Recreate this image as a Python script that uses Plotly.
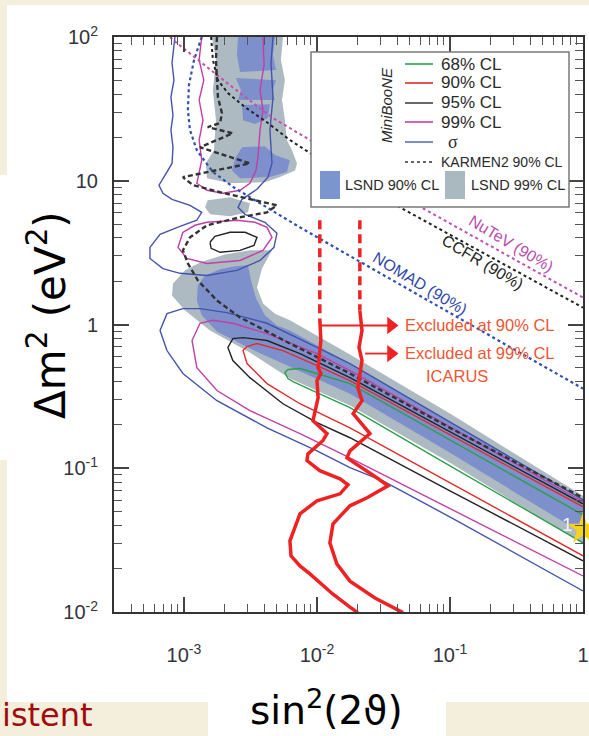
import plotly.graph_objects as go

# ---------------- data: x = sin^2(2theta), y = delta m^2 (eV^2) ----------------
# LSND 99% CL (grey)
lsnd99_hi_x = [1.62e-3, 5.55e-3, 5.36e-3, 5.74e-3, 5.46e-3, 5.74e-3, 5.94e-3, 6.49e-3, 7.08e-3, 6.84e-3,
               5.27e-3, 4.06e-3, 2.22e-3, 1.49e-3, 1.46e-3, 1.68e-3, 1.74e-3, 1.65e-3, 1.74e-3]
lsnd99_hi_y = [100, 100, 69.2, 50.1, 36.4, 26.4, 19.2, 16.3, 13.2, 11.8,
               10.6, 9.77, 9.61, 10.4, 13.2, 16.3, 26.4, 42.7, 69.2]
lsnd99_blob_x = [1.51e-3, 2.22e-3, 3.13e-3, 3.03e-3, 2.22e-3, 1.57e-3, 1.44e-3]
lsnd99_blob_y = [7.31, 7.67, 6.97, 6.03, 5.66, 5.84, 6.53]
lsnd99_lo_x = [8.27e-4, 1.02e-3, 1.32e-3, 2.03e-3, 3.13e-3, 4.59e-3, 3.86e-3, 3.54e-3, 3.93e-3, 4.83e-3,
               6.26e-3, 1.77e-2, 0.1, 1.0, 1.0, 0.1, 1.77e-2, 6.26e-3, 3.13e-3, 1.57e-3, 1.02e-3, 8.13e-4]
lsnd99_lo_y = [1.93, 2.38, 2.70, 3.07, 3.28, 3.28, 2.45, 1.81, 1.40, 1.19,
               1.07, 0.618, 0.240, 0.0643, 0.0298, 0.109, 0.273, 0.421, 0.638, 0.908, 1.25, 1.59]

# LSND 90% CL (blue)
lsnd90_a_x = [2.55e-3, 4.83e-3, 4.67e-3, 4.92e-3, 2.64e-3, 2.50e-3]
lsnd90_a_y = [100, 100, 75.0, 58.9, 57.0, 75.0]
lsnd90_b_x = [2.46e-3, 4.92e-3, 4.59e-3, 4.83e-3, 2.55e-3, 2.68e-3]
lsnd90_b_y = [51.8, 50.1, 41.4, 36.4, 36.4, 42.7]
lsnd90_c_x = [2.73e-3, 4.43e-3, 4.28e-3, 3.42e-3, 2.78e-3]
lsnd90_c_y = [33.6, 34.1, 27.3, 24.8, 26.4]
lsnd90_d_x = [2.73e-3, 4.06e-3, 4.83e-3, 6.26e-3, 5.94e-3, 4.43e-3, 2.64e-3, 2.30e-3, 2.42e-3]
lsnd90_d_y = [17.1, 17.4, 15.1, 13.9, 11.5, 10.6, 10.4, 11.8, 14.3]
lsnd90_lo_x = [1.27e-3, 1.44e-3, 1.87e-3, 2.42e-3, 3.03e-3, 3.19e-3, 3.48e-3, 4.06e-3, 5.00e-3, 6.26e-3,
               1.77e-2, 0.1, 1.0, 1.0, 0.1, 1.77e-2, 6.26e-3, 3.13e-3, 1.77e-3, 1.36e-3, 1.25e-3]
lsnd90_lo_y = [1.87, 2.19, 2.42, 2.54, 2.58, 2.03, 1.52, 1.16, 0.984, 0.908,
               0.535, 0.211, 0.0585, 0.0350, 0.128, 0.330, 0.509, 0.680, 0.894, 1.16, 1.47]

# MiniBooNE contours
mb68_x = [1.0, 0.1, 1.77e-2, 1e-2, 7.45e-3, 6.05e-3, 5.74e-3, 6.05e-3, 6.60e-3, 1e-2, 1.77e-2, 0.1, 1.0]
mb68_y = [0.0474, 0.158, 0.388, 0.456, 0.494, 0.486, 0.463, 0.421, 0.401, 0.336, 0.264, 0.104, 0.0303]
mb90_x = [1.0, 0.1, 1.77e-2, 1e-2, 5.55e-3, 3.54e-3, 2.98e-3, 2.78e-3, 2.98e-3, 4.21e-3, 7.45e-3, 1.77e-2, 0.1, 1.0]
mb90_y = [0.0539, 0.171, 0.407, 0.518, 0.659, 0.738, 0.703, 0.659, 0.535, 0.388, 0.281, 0.191, 0.0792, 0.0246]
mb95_x = [1.0, 0.1, 1.77e-2, 7.45e-3, 4.21e-3, 2.78e-3, 2.33e-3, 2.14e-3, 2.33e-3, 3.13e-3, 5.55e-3, 1e-2,
          1.77e-2, 0.1, 1.0]
mb95_y = [0.0566, 0.180, 0.427, 0.628, 0.774, 0.811, 0.798, 0.692, 0.561, 0.427, 0.281, 0.208,
          0.163, 0.0697, 0.0227]
mb99_x = [1.0, 0.1, 1.77e-2, 1e-2, 4.21e-3, 2.33e-3, 1.65e-3, 1.32e-3, 1.15e-3, 1.25e-3, 1.77e-3, 3.13e-3,
          7.45e-3, 1.77e-2, 0.1, 1.0]
mb99_y = [0.0585, 0.195, 0.478, 0.628, 0.865, 1.02, 1.07, 1.02, 0.774, 0.501, 0.347, 0.252,
          0.174, 0.118, 0.0522, 0.0178]
mbsig_x = [1.0, 0.1, 1.77e-2, 1e-2, 4.21e-3, 2.10e-3, 1.32e-3, 9.82e-4, 7.45e-4, 6.61e-4, 7.45e-4, 9.82e-4,
           1.77e-3, 4.21e-3, 1e-2, 1.77e-2, 3.13e-2, 0.113, 1.0]
mbsig_y = [0.0603, 0.211, 0.535, 0.692, 1.02, 1.21, 1.29, 1.29, 1.19, 0.908, 0.659, 0.456,
           0.295, 0.191, 0.132, 0.101, 0.0818, 0.0431, 0.0140]
mbsig_hi_x = [8.55e-4, 8.13e-4, 8.41e-4, 7.98e-4, 8.27e-4, 7.98e-4, 8.27e-4, 8.13e-4, 7.19e-4, 6.49e-4,
              6.95e-4, 8.13e-4, 1.11e-3, 1.36e-3, 1.25e-3, 9.33e-4, 6.61e-4, 5.55e-4, 5.55e-4, 6.95e-4,
              9.33e-4, 1.49e-3, 2.50e-3, 3.73e-3, 4.75e-3, 5.00e-3, 4.06e-3, 2.88e-3, 2.55e-3, 2.73e-3,
              3.54e-3, 4.28e-3, 4.59e-3, 4.43e-3, 4.67e-3, 4.51e-3, 4.67e-3]
mbsig_hi_y = [100, 65.9, 50.1, 38.2, 28.6, 22.5, 17.1, 13.2, 10.9, 9.31,
              8.18, 7.43, 6.75, 6.03, 5.31, 4.82, 4.24, 3.44, 2.88, 2.45,
              2.27, 2.19, 2.38, 2.79, 3.44, 4.31, 5.14, 5.84, 6.53, 7.43,
              8.73, 10.6, 13.2, 22.5, 38.2, 65.9, 100]
mb99_hi_x = [1.36e-3, 1.30e-3, 1.41e-3, 1.30e-3, 1.39e-3, 1.30e-3, 1.36e-3, 1.27e-3, 1.25e-3, 1.49e-3,
             1.96e-3, 2.64e-3, 3.13e-3, 3.48e-3, 3.60e-3, 3.73e-3, 3.93e-3, 3.73e-3, 4.00e-3, 3.93e-3]
mb99_hi_y = [100, 69.2, 50.1, 36.4, 26.4, 19.2, 13.9, 10.6, 9.61, 8.59,
             8.18, 8.59, 9.61, 11.8, 14.6, 22.5, 31.0, 42.7, 63.8, 100]
mb99_isl_x = [9.82e-4, 1.21e-3, 1.49e-3, 2.50e-3, 3.42e-3, 4.21e-3, 4.59e-3, 3.93e-3, 2.64e-3, 1.49e-3,
              1.05e-3, 9.02e-4, 9.82e-4]
mb99_isl_y = [4.38, 4.90, 5.14, 5.31, 5.14, 4.74, 4.04, 3.28, 2.79, 2.66, 2.88, 3.44, 4.38]
mb95_isl_x = [1.57e-3, 1.71e-3, 2.22e-3, 2.88e-3, 3.54e-3, 3.36e-3, 2.64e-3, 1.87e-3, 1.60e-3, 1.57e-3]
mb95_isl_y = [3.73, 4.10, 4.38, 4.38, 4.04, 3.55, 3.28, 3.18, 3.39, 3.73]

# other experiments (90% CL)
karmen_x = [1.77e-3, 1.74e-3, 1.80e-3, 1.93e-3, 1.87e-3, 1.51e-3, 2.33e-3, 1.32e-3, 3.13e-3, 9.82e-4,
            1.17e-3, 1.87e-3, 5.00e-3, 4.21e-3, 2.64e-3, 1.49e-3, 1.11e-3, 9.82e-4, 1.07e-3, 1.27e-3,
            1.77e-3, 2.64e-3, 6.26e-3, 1.77e-2, 0.1, 1.0]
karmen_y = [100, 69.2, 38.2, 29.5, 25.2, 23.6, 21.4, 17.1, 13.2, 10.6,
            9.31, 8.32, 6.75, 6.03, 5.57, 4.90, 4.04, 3.28, 2.66, 2.03,
            1.47, 1.12, 0.738, 0.456, 0.191, 0.0623]
ccfr_x = [1.60e-3, 1.65e-3, 1.80e-3, 2.14e-3, 2.88e-3, 4.28e-3, 6.26e-3, 8.85e-3, 4.21e-2, 1.0]
ccfr_y = [100, 69.2, 50.1, 40.7, 32.5, 25.2, 19.2, 15.6, 6.53, 1.31]
nutev_x = [7.85e-4, 8.85e-4, 1.49e-3, 2.64e-3, 4.67e-3, 8.85e-3, 6.26e-2, 1.0]
nutev_y = [100, 90.8, 61.8, 40.7, 27.3, 19.2, 6.43, 1.54]
nomad_x = [1.36e-3, 1.19e-3, 1.09e-3, 1.07e-3, 1.11e-3, 1.25e-3, 1.65e-3, 2.42e-3, 3.73e-3, 7.45e-3,
           1.49e-2, 0.1, 1.0]
nomad_y = [100, 69.2, 46.3, 31.0, 22.5, 16.3, 11.5, 8.87, 6.97, 4.74,
           3.28, 1.21, 0.358]

# ICARUS exclusion limits
icarus90_dash_x = [1.05e-2, 1.05e-2]
icarus90_dash_y = [5.31, 1.10]
icarus90_x = [1.05e-2, 1.07e-2, 1.02e-2, 1.07e-2, 1e-2, 1.02e-2, 9.33e-3, 1.19e-2, 1.11e-2, 8.55e-3,
              8.41e-3, 1.05e-2, 1.49e-2, 1.71e-2, 1.49e-2, 1e-2, 7.45e-3, 6.26e-3, 6.38e-3, 7.45e-3,
              8.85e-3, 1.32e-2, 1.77e-2, 2.03e-2]
icarus90_y = [1.10, 0.774, 0.501, 0.456, 0.407, 0.310, 0.214, 0.174, 0.156, 0.126,
              0.113, 0.0961, 0.0845, 0.0767, 0.0664, 0.0594, 0.0482, 0.0313, 0.0246, 0.0209,
              0.0184, 0.0133, 0.0108, 0.0099]
icarus99_dash_x = [2.10e-2, 2.10e-2]
icarus99_dash_y = [5.31, 1.25]
icarus99_x = [2.10e-2, 2.18e-2, 2.07e-2, 2.18e-2, 2.03e-2, 2.18e-2, 1.87e-2, 2.50e-2, 1.77e-2, 1.68e-2,
              2.82e-2, 3.42e-2, 2.38e-2, 1.77e-2, 1.32e-2, 1.25e-2, 1.41e-2, 1.77e-2, 2.73e-2, 4.43e-2]
icarus99_y = [1.25, 0.908, 0.692, 0.561, 0.364, 0.295, 0.240, 0.174, 0.132, 0.118,
              0.0859, 0.0755, 0.0623, 0.0548, 0.0410, 0.0303, 0.0216, 0.0164, 0.0125, 0.0099]
arrow90_x = [1.05e-2, 3.6e-2]
arrow90_y = [0.984, 0.984]
arrow99_x = [2.30e-2, 3.6e-2]
arrow99_y = [0.628, 0.628]

best_fit_x = [1.0]
best_fit_y = [0.0379]

x_tick_vals = [1e-3, 1e-2, 1e-1, 1]
x_tick_text = ["10<sup>-3</sup>", "10<sup>-2</sup>", "10<sup>-1</sup>", "1"]
y_tick_vals = [1e-2, 1e-1, 1, 10, 100]
y_tick_text = ["10<sup>-2</sup>", "10<sup>-1</sup>", "1", "10", "10<sup>2</sup>"]

# ---------------- styles ----------------
GREY = "#adbac2"
BLUE_FILL = "#7e90cc"
C68, C90, C95, C99, CSIG = "#2aa04a", "#e32b2b", "#222222", "#c23fa5", "#4453ad"
RED = "#ee2222"
TXT_RED = "#ef5533"

fig = go.Figure()


def poly(x, y, color):
    fig.add_trace(go.Scatter(x=x, y=y, mode="lines", fill="toself", fillcolor=color,
                             line=dict(width=0, color=color), hoverinfo="skip", showlegend=False))


def curve(x, y, color, width=1.4, dash="solid"):
    fig.add_trace(go.Scatter(x=x, y=y, mode="lines", line=dict(color=color, width=width, dash=dash),
                             hoverinfo="skip", showlegend=False))


poly(lsnd99_hi_x, lsnd99_hi_y, GREY)
poly(lsnd99_blob_x, lsnd99_blob_y, GREY)
poly(lsnd99_lo_x, lsnd99_lo_y, GREY)
for px_, py_ in [(lsnd90_a_x, lsnd90_a_y), (lsnd90_b_x, lsnd90_b_y), (lsnd90_c_x, lsnd90_c_y),
                 (lsnd90_d_x, lsnd90_d_y), (lsnd90_lo_x, lsnd90_lo_y)]:
    poly(px_, py_, BLUE_FILL)

curve(mbsig_x, mbsig_y, CSIG)
curve(mbsig_hi_x, mbsig_hi_y, CSIG)
curve(mb99_x, mb99_y, C99)
curve(mb99_hi_x, mb99_hi_y, C99)
curve(mb99_isl_x, mb99_isl_y, C99)
curve(mb95_x, mb95_y, C95)
curve(mb95_isl_x, mb95_isl_y, C95)
curve(mb90_x, mb90_y, C90)
curve(mb68_x, mb68_y, C68)

curve(nomad_x, nomad_y, "#2f4fb0", 2.2, "dot")
curve(nutev_x, nutev_y, "#c050b0", 2.0, "dot")
curve(ccfr_x, ccfr_y, "#222222", 2.0, "dot")
curve(karmen_x, karmen_y, "#333333", 2.4, "5px,3px")

curve(icarus90_dash_x, icarus90_dash_y, RED, 3.5, "9px,5px")
curve(icarus99_dash_x, icarus99_dash_y, RED, 3.5, "9px,5px")
curve(icarus90_x, icarus90_y, RED, 3.5)
curve(icarus99_x, icarus99_y, RED, 3.5)
curve(arrow90_x, arrow90_y, RED, 1.8)
curve(arrow99_x, arrow99_y, RED, 1.8)
fig.add_trace(go.Scatter(x=[arrow90_x[-1], arrow99_x[-1]], y=[arrow90_y[-1], arrow99_y[-1]], mode="markers",
                         marker=dict(symbol="triangle-right", size=15, color=RED, line=dict(width=0)),
                         hoverinfo="skip", showlegend=False))

fig.add_trace(go.Scatter(x=best_fit_x, y=best_fit_y, mode="markers", cliponaxis=False,
                         marker=dict(symbol="star", size=24, color="#f7d21a", line=dict(width=0)),
                         hoverinfo="skip", showlegend=False))

# ---------------- layout ----------------
W, H = 589, 736
L, R, T, B = 114, 6, 37, 124
PW, PH = W - L - R, H - T - B


def pxx(px):
    return (px - L) / PW


def pxy(py):
    return (H - B - py) / PH


shapes = []
BEIGE = "#f4eedc"
# white slide panels
shapes.append(dict(type="rect", xref="paper", yref="paper", x0=pxx(7), x1=pxx(592), y0=pxy(702), y1=pxy(5),
                   fillcolor="white", line=dict(width=0), layer="below"))
shapes.append(dict(type="rect", xref="paper", yref="paper", x0=pxx(-3), x1=pxx(8), y0=pxy(460), y1=pxy(175),
                   fillcolor="white", line=dict(width=0), layer="below"))
shapes.append(dict(type="rect", xref="paper", yref="paper", x0=pxx(208), x1=pxx(446), y0=pxy(740), y1=pxy(701),
                   fillcolor="white", line=dict(width=0), layer="below"))

# legend box
shapes.append(dict(type="rect", xref="paper", yref="paper", x0=pxx(311), x1=pxx(569), y0=pxy(207), y1=pxy(52),
                   fillcolor="white", line=dict(color="#7a7a7a", width=1.5), layer="above"))
leg_rows = [(64, C68, "solid"), (83, C90, "solid"), (103, "#444444", "solid"), (122, C99, "solid"),
            (142, "#5a6fc0", "solid"), (162, "#333333", "dot")]
for yy, col, dsh in leg_rows:
    shapes.append(dict(type="line", xref="paper", yref="paper", x0=pxx(405), x1=pxx(433), y0=pxy(yy), y1=pxy(yy),
                       line=dict(color=col, width=1.6 if dsh == "solid" else 1.4, dash=dsh), layer="above"))
shapes.append(dict(type="rect", xref="paper", yref="paper", x0=pxx(320), x1=pxx(340), y0=pxy(199), y1=pxy(171),
                   fillcolor="#7b96cf", line=dict(width=0), layer="above"))
shapes.append(dict(type="rect", xref="paper", yref="paper", x0=pxx(445), x1=pxx(465), y0=pxy(199), y1=pxy(171),
                   fillcolor="#aab8c0", line=dict(width=0), layer="above"))

ann = []
FONT = "Liberation Sans, Arial, sans-serif"


def text(px, py, s, size, color="#2a2a2a", xanchor="left", angle=0, family=FONT, yanchor="middle"):
    ann.append(dict(x=pxx(px), y=pxy(py), xref="paper", yref="paper", text=s, showarrow=False,
                    xanchor=xanchor, yanchor=yanchor, textangle=angle,
                    font=dict(size=size, color=color, family=family)))


for yy, s in [(64, "68% CL"), (83, "90% CL"), (103, "95% CL"), (122, "99% CL")]:
    text(439, yy, s, 17)
text(453, 142, "σ", 18, xanchor="center", family="Liberation Serif, serif")
text(439, 162, "KARMEN2 90% CL", 14)
text(343, 185, "LSND 90% CL", 14.5)
text(469, 185, "LSND 99% CL", 14.5)
text(386, 105, "<i>MiniBooNE</i>", 15, xanchor="center", angle=-90)

text(420, 283, "NOMAD (90%)", 16, color="#3048a8", xanchor="center", angle=31)
text(483, 262, "CCFR (90%)", 16, color="#222222", xanchor="center", angle=31)
text(511, 243, "NuTeV (90%)", 16, color="#b84cac", xanchor="center", angle=31)

text(403, 325, "Excluded at 90% CL", 16.5, color=TXT_RED)
text(403, 353, "Excluded at 99% CL", 16.5, color=TXT_RED)
text(457, 376, "ICARUS", 16.5, color=TXT_RED, xanchor="center")
text(567, 524, "1", 19, color="#f2f2f2", xanchor="center")

AXFONT = "DejaVu Sans, Noto Sans, sans-serif"
text(47, 315, "Δm<sup>2</sup> (eV<sup>2</sup>)", 42, color="black", xanchor="center", angle=-90, family=AXFONT)
text(326, 735, "sin<sup>2</sup>(2ϑ)", 39, color="black", xanchor="center", family=AXFONT, yanchor="bottom")
text(0, 736, "istent", 32, color="#a00c0c", xanchor="left", yanchor="bottom", family=AXFONT)

x_minor = [m * 10.0 ** d for d in range(-4, 1) for m in range(2, 10) if 3e-4 <= m * 10.0 ** d < 1]
y_minor = [m * 10.0 ** d for d in range(-2, 2) for m in range(2, 10)]

axis_common = dict(type="log", showgrid=False, zeroline=False, showline=True, linecolor="#333333",
                   linewidth=2, mirror="ticks", ticks="inside", ticklen=15, tickwidth=1.5,
                   tickcolor="#444444", tickmode="array",
                   tickfont=dict(size=20, color="#333340", family=FONT))

fig.update_xaxes(range=[-3.526, 0], tickvals=x_tick_vals, ticktext=x_tick_text, ticklabelstandoff=24,
                 minor=dict(tickmode="array", tickvals=x_minor, ticks="inside", ticklen=8,
                            tickwidth=1.2, tickcolor="#555555", showgrid=False),
                 **axis_common)
fig.update_yaxes(range=[-2, 2], tickvals=y_tick_vals, ticktext=y_tick_text, ticklabelstandoff=10,
                 minor=dict(tickmode="array", tickvals=y_minor, ticks="inside", ticklen=8,
                            tickwidth=1.2, tickcolor="#555555", showgrid=False),
                 **axis_common)

fig.update_layout(width=W, height=H, margin=dict(l=L, r=R, t=T, b=B, autoexpand=False),
                  paper_bgcolor=BEIGE, plot_bgcolor="white", showlegend=False,
                  shapes=shapes, annotations=ann)

fig.write_html("out.html")
